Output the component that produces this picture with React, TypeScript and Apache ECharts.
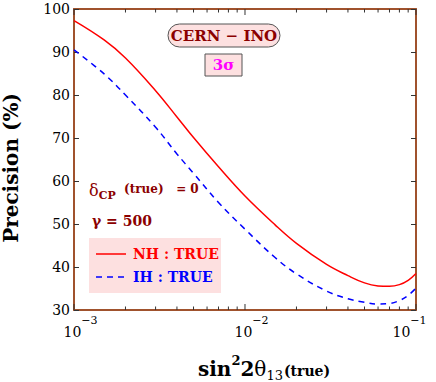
import React, { useEffect, useRef } from "react";
import * as echarts from "echarts";

// sin^2 2theta13 (true) sample points
const xValues = [0.001, 0.0015, 0.002, 0.003, 0.004, 0.005, 0.007, 0.01, 0.015, 0.02, 0.03, 0.04, 0.05, 0.06, 0.07, 0.08, 0.09, 0.1];
// Precision (%) for NH : TRUE
const nhTrue = [97.3, 92.8, 88.6, 81.0, 74.9, 70.1, 63.3, 56.5, 49.8, 45.5, 40.6, 38.0, 36.3, 35.6, 35.5, 35.9, 36.9, 38.5];
// Precision (%) for IH : TRUE
const ihTrue = [90.5, 84.9, 80.0, 72.5, 66.3, 61.8, 55.0, 48.8, 42.2, 38.4, 34.4, 32.6, 31.8, 31.4, 31.5, 32.2, 33.4, 35.1];

const majorTicks = [0.001, 0.01, 0.1];
const minorTicks = [0.002, 0.003, 0.004, 0.005, 0.006, 0.007, 0.008, 0.009, 0.02, 0.03, 0.04, 0.05, 0.06, 0.07, 0.08, 0.09];
const yMin = 30;
const yMax = 100;
const yStep = 10;

const BROWN = "#a0522d";
const DARKRED = "#8b0000";
const PINK = "#fde0e0";
const TICK = "#333";
const SERIF = "DejaVu Serif";

export default function App() {
  const ref = useRef<HTMLDivElement>(null);
  useEffect(() => {
    if (!ref.current) return;
    const chart = echarts.init(ref.current, null, { renderer: "svg" });
    const nhData = xValues.map((x, i) => [x, nhTrue[i]]);
    const ihData = xValues.map((x, i) => [x, ihTrue[i]]);
    const tickData = [
      ...majorTicks.map((v) => [v, 6]),
      ...minorTicks.map((v) => [v, 3.5]),
    ];

    const logX = (position: string, showLabel: boolean) => ({
      type: "log",
      logBase: 10,
      min: majorTicks[0],
      max: majorTicks[majorTicks.length - 1],
      position,
      axisLine: { show: true, lineStyle: { color: BROWN, width: 2 } },
      axisTick: { show: false },
      splitLine: { show: false },
      minorTick: { show: false },
      axisLabel: showLabel
        ? {
            show: true,
            margin: 5,
            formatter: (v: number) => {
              const e = Math.round(Math.log10(v));
              const s = "\u2212" + Math.abs(e);
              if (e === -1) return `{b|10}{sup|${s}}{pad|}`;
              return `{pad|}{b|10}{sup|${s}}`;
            },
            rich: {
              b: { fontFamily: SERIF, fontSize: 14, color: "#000", padding: [10, 0, 0, 0], verticalAlign: "bottom" },
              sup: { fontFamily: SERIF, fontSize: 11, color: "#000", verticalAlign: "top" },
              pad: { width: 13 },
            },
          }
        : { show: false },
    });

    const baseY = (position: string, showLabel: boolean) => ({
      type: "value",
      min: yMin,
      max: yMax,
      interval: yStep,
      position,
      axisLine: { show: true, lineStyle: { color: BROWN, width: 2 } },
      axisTick: { show: true, inside: true, length: 5, lineStyle: { color: TICK, width: 1 } },
      splitLine: { show: false },
      axisLabel: showLabel
        ? { show: true, fontFamily: SERIF, fontSize: 14, color: "#000", margin: 4 }
        : { show: false },
    });

    chart.setOption({
      animation: false,
      backgroundColor: "#fff",
      grid: { left: 74, top: 9, right: 4, bottom: 72, show: false },
      xAxis: [logX("bottom", true), logX("top", false)],
      yAxis: [baseY("left", true), baseY("right", false)],
      series: [
        {
          name: "xticks",
          type: "custom",
          xAxisIndex: 0,
          yAxisIndex: 0,
          clip: false,
          silent: true,
          data: tickData,
          renderItem: (params: any, api: any) => {
            const x = api.value(0);
            const len = api.value(1);
            const pb = api.coord([x, yMin]);
            const pt = api.coord([x, yMax]);
            return {
              type: "group",
              children: [
                { type: "line", shape: { x1: pb[0], y1: pb[1], x2: pb[0], y2: pb[1] - len }, style: { stroke: TICK, lineWidth: 1 } },
                { type: "line", shape: { x1: pt[0], y1: pt[1], x2: pt[0], y2: pt[1] + len }, style: { stroke: TICK, lineWidth: 1 } },
              ],
            };
          },
        },
        {
          name: "NH : TRUE",
          type: "line",
          data: nhData,
          smooth: 0.4,
          showSymbol: false,
          lineStyle: { color: "#ff0000", width: 1.5 },
          xAxisIndex: 0,
          yAxisIndex: 0,
        },
        {
          name: "IH : TRUE",
          type: "line",
          data: ihData,
          smooth: 0.4,
          showSymbol: false,
          lineStyle: { color: "#0000ff", width: 1.5, type: [6, 5] },
          xAxisIndex: 0,
          yAxisIndex: 0,
        },
      ],
      graphic: [
        {
          type: "text",
          x: 11,
          y: 168,
          rotation: Math.PI / 2,
          style: {
            text: "Precision (%)",
            fontFamily: SERIF,
            fontSize: 20,
            fontWeight: "bold",
            fill: "#000",
            align: "center",
            verticalAlign: "middle",
          },
        },
        {
          type: "text",
          x: 198,
          y: 366,
          style: {
            text: "{big|sin}{sup|2}{big|2}{th|\u03b8}{sub|13}{sm|(true)}",
            verticalAlign: "middle",
            rich: {
              big: { fontFamily: SERIF, fontSize: 20, fontWeight: "bold", fill: "#000", padding: [6, 0, 0, 0] },
              sup: { fontFamily: SERIF, fontSize: 13, fontWeight: "bold", fill: "#000", padding: [0, 0, 12, 0] },
              th: { fontFamily: SERIF, fontSize: 20, fill: "#000", padding: [6, 0, 0, 0] },
              sub: { fontFamily: SERIF, fontSize: 13, fill: "#000", padding: [18, 1, 0, 0] },
              sm: { fontFamily: SERIF, fontSize: 14, fontWeight: "bold", fill: "#000", padding: [10, 0, 0, 0] },
            },
          },
        },
        {
          type: "rect",
          shape: { x: 168, y: 24, width: 112, height: 23, r: 11.5 },
          style: { fill: PINK, stroke: "#555", lineWidth: 1 },
        },
        {
          type: "text",
          x: 224,
          y: 36,
          style: {
            text: "CERN \u2212 INO",
            fontFamily: SERIF,
            fontSize: 15,
            fontWeight: "bold",
            fill: DARKRED,
            align: "center",
            verticalAlign: "middle",
          },
        },
        {
          type: "rect",
          shape: { x: 205, y: 54, width: 37, height: 22 },
          style: { fill: PINK, stroke: "#555", lineWidth: 1 },
        },
        {
          type: "text",
          x: 223.5,
          y: 65,
          style: {
            text: "3\u03c3",
            fontFamily: SERIF,
            fontSize: 15,
            fontWeight: "bold",
            fill: "#ff00ff",
            align: "center",
            verticalAlign: "middle",
          },
        },
        {
          type: "text",
          x: 89,
          y: 190,
          style: {
            text: "{d|\u03b4}{sub|CP}{t|  (true)   = 0}",
            verticalAlign: "middle",
            rich: {
              d: { fontFamily: SERIF, fontSize: 16, fill: DARKRED },
              sub: { fontFamily: SERIF, fontSize: 11, fontWeight: "bold", fill: DARKRED, padding: [10, 0, 0, 0] },
              t: { fontFamily: SERIF, fontSize: 12, fontWeight: "bold", fill: DARKRED, padding: [0, 0, 2, 0] },
            },
          },
        },
        {
          type: "text",
          x: 92,
          y: 221,
          style: {
            text: "\u03b3 = 500",
            fontFamily: SERIF,
            fontSize: 14,
            fontWeight: "bold",
            fill: DARKRED,
            verticalAlign: "middle",
          },
        },
        {
          type: "rect",
          shape: { x: 89, y: 238, width: 132, height: 55 },
          style: { fill: PINK, stroke: "none" },
        },
        {
          type: "line",
          shape: { x1: 96, y1: 254, x2: 126, y2: 254 },
          style: { stroke: "#ff0000", lineWidth: 1.5 },
        },
        {
          type: "text",
          x: 133,
          y: 254,
          style: {
            text: "NH : TRUE",
            fontFamily: SERIF,
            fontSize: 14,
            fontWeight: "bold",
            fill: "#ff0000",
            verticalAlign: "middle",
          },
        },
        {
          type: "line",
          shape: { x1: 96, y1: 277, x2: 126, y2: 277 },
          style: { stroke: "#0000ff", lineWidth: 1.5, lineDash: [6, 5] },
        },
        {
          type: "text",
          x: 133,
          y: 277,
          style: {
            text: "IH : TRUE",
            fontFamily: SERIF,
            fontSize: 14,
            fontWeight: "bold",
            fill: "#0000ff",
            verticalAlign: "middle",
          },
        },
      ],
    });
    return () => chart.dispose();
  }, []);
  return <div ref={ref} style={{ position: "fixed", left: 0, top: 0, width: 436, height: 382 }} />;
}
